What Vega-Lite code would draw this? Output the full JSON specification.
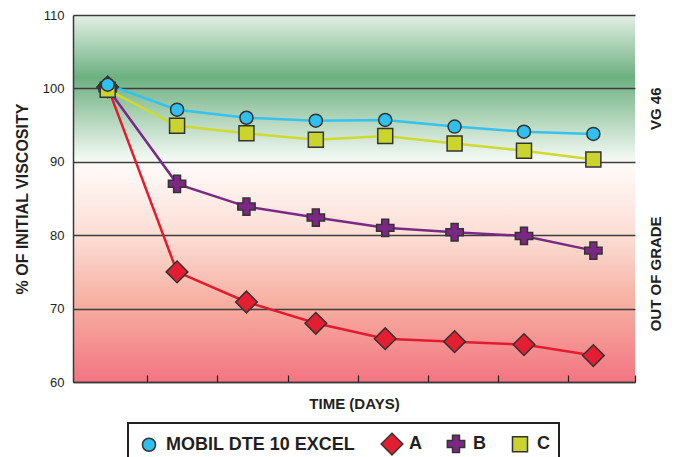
{
  "$schema": "https://vega.github.io/schema/vega-lite/v6.json",
  "width": 562,
  "height": 367,
  "autosize": {"type": "none"},
  "padding": {"left": 73, "top": 15, "right": 41, "bottom": 75},
  "background": "white",
  "config": {
    "font": "Liberation Sans",
    "view": {
      "stroke": null,
      "fill": {
        "gradient": "linear",
        "x1": 0, "y1": 0, "x2": 0, "y2": 1,
        "stops": [
          {"offset": 0, "color": "#e4f0e6"},
          {"offset": 0.17, "color": "#6db080"},
          {"offset": 0.399, "color": "#f7fbf7"},
          {"offset": 0.4, "color": "#fffcfb"},
          {"offset": 0.61, "color": "#fcdcd2"},
          {"offset": 0.79, "color": "#f6aea0"},
          {"offset": 1, "color": "#f37582"}
        ]
      }
    },
    "legend": {
      "title": null,
      "orient": "none",
      "legendX": 55,
      "legendY": 408,
      "direction": "horizontal",
      "columns": 4,
      "strokeColor": "#231f20",
      "strokeWidth": 2,
      "fillColor": "white",
      "padding": 9,
      "columnPadding": 22,
      "labelFont": "Liberation Sans",
      "labelFontSize": 18,
      "labelFontWeight": "bold",
      "labelColor": "#231f20",
      "labelOffset": 5,
      "labelLimit": 400,
      "symbolStrokeColor": "#333333",
      "symbolStrokeWidth": 1.5,
      "symbolOpacity": 1
    }
  },
  "data": {
    "values": [
      {"series": "A", "t": 0, "v": 100.2},
      {"series": "A", "t": 1, "v": 75.0},
      {"series": "A", "t": 2, "v": 70.9},
      {"series": "A", "t": 3, "v": 68.0},
      {"series": "A", "t": 4, "v": 65.9},
      {"series": "A", "t": 5, "v": 65.5},
      {"series": "A", "t": 6, "v": 65.1},
      {"series": "A", "t": 7, "v": 63.6},
      {"series": "B", "t": 0, "v": 100.0},
      {"series": "B", "t": 1, "v": 87.0},
      {"series": "B", "t": 2, "v": 83.9},
      {"series": "B", "t": 3, "v": 82.4},
      {"series": "B", "t": 4, "v": 81.0},
      {"series": "B", "t": 5, "v": 80.4},
      {"series": "B", "t": 6, "v": 79.9},
      {"series": "B", "t": 7, "v": 77.9},
      {"series": "C", "t": 0, "v": 99.8},
      {"series": "C", "t": 1, "v": 94.9},
      {"series": "C", "t": 2, "v": 93.9},
      {"series": "C", "t": 3, "v": 93.0},
      {"series": "C", "t": 4, "v": 93.5},
      {"series": "C", "t": 5, "v": 92.5},
      {"series": "C", "t": 6, "v": 91.5},
      {"series": "C", "t": 7, "v": 90.3},
      {"series": "MOBIL DTE 10 EXCEL", "t": 0, "v": 100.5},
      {"series": "MOBIL DTE 10 EXCEL", "t": 1, "v": 97.1},
      {"series": "MOBIL DTE 10 EXCEL", "t": 2, "v": 96.0},
      {"series": "MOBIL DTE 10 EXCEL", "t": 3, "v": 95.6},
      {"series": "MOBIL DTE 10 EXCEL", "t": 4, "v": 95.7},
      {"series": "MOBIL DTE 10 EXCEL", "t": 5, "v": 94.8},
      {"series": "MOBIL DTE 10 EXCEL", "t": 6, "v": 94.1},
      {"series": "MOBIL DTE 10 EXCEL", "t": 7, "v": 93.8}
    ]
  },
  "encoding": {
    "x": {
      "field": "t",
      "type": "quantitative",
      "scale": {"domain": [-0.5, 7.6], "nice": false, "zero": false},
      "axis": {
        "title": "TIME (DAYS)",
        "titleFont": "Liberation Sans",
        "titleFontSize": 15,
        "titleFontWeight": "bold",
        "titleColor": "#231f20",
        "titlePadding": 14,
        "labels": false,
        "grid": false,
        "values": [0.567, 1.576, 2.599, 3.608, 4.617, 5.626, 6.635, 7.6],
        "ticks": true,
        "tickSize": -7,
        "tickColor": "#231f20",
        "tickWidth": 1.2,
        "domainColor": "#3a3a3a",
        "domainWidth": 1.5
      }
    }
  },
  "layer": [
    {
      "mark": {"type": "line", "strokeWidth": 2.5, "interpolate": "linear"},
      "encoding": {
        "y": {
          "field": "v",
          "type": "quantitative",
          "scale": {"domain": [60, 110], "nice": false, "zero": false},
          "axis": {
            "title": "% OF INITIAL VISCOSITY",
            "titleFont": "Liberation Sans",
            "titleFontSize": 16,
            "titleFontWeight": "bold",
            "titleColor": "#231f20",
            "titlePadding": 12,
            "values": [60, 70, 80, 90, 100, 110],
            "labelFontSize": 13,
            "labelColor": "#231f20",
            "labelPadding": 9,
            "ticks": false,
            "grid": true,
            "gridColor": "#3d3d3d",
            "gridWidth": 1.3,
            "gridOpacity": 1,
            "domainColor": "#3a3a3a",
            "domainWidth": 1.5
          }
        },
        "stroke": {
          "field": "series",
          "type": "nominal",
          "scale": {
            "domain": ["A", "B", "C", "MOBIL DTE 10 EXCEL"],
            "range": ["#e31b2f", "#7a2a84", "#cfd92e", "#35c2ee"]
          },
          "legend": null
        }
      }
    },
    {
      "mark": {"type": "point", "filled": true, "opacity": 1, "stroke": "#333333", "strokeWidth": 1.5},
      "encoding": {
        "y": {"field": "v", "type": "quantitative", "axis": null},
        "color": {
          "field": "series",
          "type": "nominal",
          "scale": {
            "domain": ["MOBIL DTE 10 EXCEL", "A", "B", "C"],
            "range": ["#30c0f0", "#e41e31", "#7d2785", "#cbd42c"]
          },
          "legend": {
            "encode": {
              "symbols": {
                "update": {
                  "stroke": {"value": "#333333"},
                  "strokeWidth": {"value": 1.5}
                }
              }
            }
          }
        },
        "shape": {
          "field": "series",
          "type": "nominal",
          "scale": {
            "domain": ["MOBIL DTE 10 EXCEL", "A", "B", "C"],
            "range": ["circle", "diamond", "cross", "square"]
          }
        },
        "size": {
          "field": "series",
          "type": "nominal",
          "scale": {
            "type": "ordinal",
            "domain": ["MOBIL DTE 10 EXCEL", "A", "B", "C"],
            "range": [170, 470, 300, 225]
          }
        }
      }
    },
    {
      "mark": {"type": "point", "opacity": 0},
      "encoding": {
        "y": {
          "field": "v",
          "type": "quantitative",
          "axis": {
            "orient": "right",
            "title": null,
            "values": [97.3, 74.8],
            "labelExpr": "datum.value > 90 ? 'VG 46' : 'OUT OF GRADE'",
            "labelAngle": -90,
            "labelAlign": "center",
            "labelBaseline": "middle",
            "labelPadding": 20,
            "labelFont": "Liberation Sans",
            "labelFontSize": 15,
            "labelFontWeight": "bold",
            "labelColor": "#231f20",
            "ticks": false,
            "domain": false,
            "grid": false
          }
        }
      }
    }
  ],
  "resolve": {"axis": {"y": "independent"}}
}
